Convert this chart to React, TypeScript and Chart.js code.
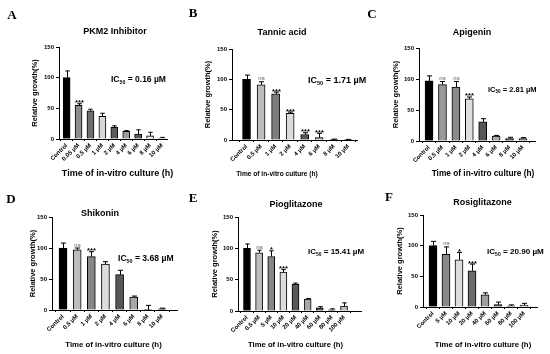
import React, { useEffect, useRef } from "react";
import { Chart, registerables } from "chart.js";
Chart.register(...registerables);

const W = 550;
const H = 354;
const SANS = "'Liberation Sans', Arial, sans-serif";
const SERIF = "'Liberation Serif', 'Times New Roman', serif";
const X_TITLE = "Time of in-vitro culture (h)";
const Y_TITLE = "Relative growth(%)";

// ---------- Panel A ----------
const titleA = "PKM2 Inhibitor";
const dosesA = ["Control", "0.05 µM", "0.5 µM", "1 µM", "2 µM", "4 µM", "6 µM", "8 µM", "10 µM"];
const growthA = [100, 55, 46, 37, 19, 12.5, 8, 5, 1.5];
const errA = [11, 2.5, 2.5, 5, 2.5, 1.2, 7, 6, 1.2];
const sigA = ["", "***", "", "", "", "", "", "", ""];
const ic50A = "0.16 µM";
const colorsA = ["#000000", "#8c8c8c", "#6e6e6e", "#d6d6d6", "#5a5a5a", "#9e9e9e", "#5e5e5e", "#e4e4e4", "#ffffff"];

// ---------- Panel B ----------
const titleB = "Tannic acid";
const dosesB = ["Control", "0.5 µM", "1 µM", "2 µM", "4 µM", "6 µM", "8 µM", "10 µM"];
const growthB = [100, 91, 76, 44, 9, 4, 1, 0.5];
const errB = [7, 5, 3, 2, 3, 7, 0.5, 0.5];
const sigB = ["", "ns", "***", "***", "***", "***", "", ""];
const ic50B = "1.71 µM";
const colorsB = ["#000000", "#bdbdbd", "#7e7e7e", "#dcdcdc", "#555555", "#9a9a9a", "#444444", "#bbbbbb"];

// ---------- Panel C ----------
const titleC = "Apigenin";
const dosesC = ["Control", "0.5 µM", "1 µM", "2 µM", "4 µM", "6 µM", "8 µM", "10 µM"];
const growthC = [97, 91, 87, 68, 31, 8, 4, 4];
const errC = [8, 5, 9, 3, 5, 1, 2, 1.5];
const sigC = ["", "ns", "ns", "***", "", "", "", ""];
const ic50C = "2.81 µM";
const colorsC = ["#000000", "#9a9a9a", "#8a8a8a", "#dedede", "#575757", "#ababab", "#555555", "#8a8a8a"];

// ---------- Panel D ----------
const titleD = "Shikonin";
const dosesD = ["Control", "0.5 µM", "1 µM", "2 µM", "4 µM", "6 µM", "8 µM", "10 µM"];
const growthD = [100, 97, 86, 74, 57, 21, 0.5, 2];
const errD = [8, 3, 8, 4, 7, 1.5, 7, 1];
const sigD = ["", "ns", "***", "", "", "", "", ""];
const ic50D = "3.68 µM";
const colorsD = ["#000000", "#bcbcbc", "#878787", "#dcdcdc", "#585858", "#a8a8a8", "#888888", "#555555"];

// ---------- Panel E ----------
const titleE = "Pioglitazone";
const dosesE = ["Control", "0.5 µM", "5 µM", "10 µM", "20 µM", "40 µM", "60 µM", "80 µM", "100 µM"];
const growthE = [100, 93, 87, 62, 43, 19, 5, 2, 8];
const errE = [7, 4, 9, 4, 1.5, 1, 2, 1.5, 5];
const sigE = ["", "ns", "*", "***", "", "", "", "", ""];
const ic50E = "15.41 µM";
const colorsE = ["#000000", "#bdbdbd", "#858585", "#dcdcdc", "#585858", "#a8a8a8", "#555555", "#888888", "#bdbdbd"];

// ---------- Panel F ----------
const titleF = "Rosiglitazone";
const dosesF = ["Control", "5 µM", "10 µM", "20 µM", "40 µM", "60 µM", "80 µM", "100 µM"];
const growthF = [100, 86, 77, 59, 20, 4, 2, 3];
const errF = [7, 12, 12, 11, 3, 4, 1.5, 3];
const sigF = ["", "ns", "*", "***", "", "", "", ""];
const ic50F = "20.90 µM";
const colorsF = ["#000000", "#8a8a8a", "#dcdcdc", "#6a6a6a", "#9e9e9e", "#555555", "#aaaaaa", "#cccccc"];

type Layout = {
  x0: number; x1: number; yTop: number; yBot: number; xMin: number; xMax: number; bar: number;
  letter: [number, number]; title: [number, number]; titleSize: number;
  ic50: [number, number]; ic50Size: number;
  xTitle: [number, number]; xTitleSize: number; yTitleGap: number; yTitleSize: number; tickSize: number;
};

type Panel = {
  letter: string; title: string; doses: string[]; values: number[]; errors: number[];
  sig: string[]; colors: string[]; ic50: string; lay: Layout;
};

const panels: Panel[] = [
  { letter: "A", title: titleA, doses: dosesA, values: growthA, errors: errA, sig: sigA, colors: colorsA, ic50: ic50A,
    lay: { x0: 59, x1: 167, yTop: 47, yBot: 139, xMin: -0.64, xMax: 8.42, bar: 7, letter: [12, 16], title: [115, 32], titleSize: 9,
      ic50: [111, 80], ic50Size: 8.5, xTitle: [117.5, 174], xTitleSize: 9, yTitleGap: 24, yTitleSize: 7.5, tickSize: 6 } },
  { letter: "B", title: titleB, doses: dosesB, values: growthB, errors: errB, sig: sigB, colors: colorsB, ic50: ic50B,
    lay: { x0: 232, x1: 357, yTop: 49, yBot: 140, xMin: -1.0, xMax: 7.6, bar: 8, letter: [193, 14], title: [282, 33], titleSize: 9,
      ic50: [308, 81], ic50Size: 9, xTitle: [277, 174.5], xTitleSize: 6.6, yTitleGap: 24, yTitleSize: 7.5, tickSize: 6 } },
  { letter: "C", title: titleC, doses: dosesC, values: growthC, errors: errC, sig: sigC, colors: colorsC, ic50: ic50C,
    lay: { x0: 419, x1: 535, yTop: 48, yBot: 141, xMin: -0.75, xMax: 7.9, bar: 8, letter: [372, 15], title: [472, 33], titleSize: 9,
      ic50: [488, 90], ic50Size: 7.5, xTitle: [483, 174], xTitleSize: 8.3, yTitleGap: 23, yTitleSize: 7.5, tickSize: 6 } },
  { letter: "D", title: titleD, doses: dosesD, values: growthD, errors: errD, sig: sigD, colors: colorsD, ic50: ic50D,
    lay: { x0: 52, x1: 177, yTop: 217, yBot: 310, xMin: -0.78, xMax: 8.06, bar: 8, letter: [11, 200], title: [100, 213.5], titleSize: 9,
      ic50: [118, 259], ic50Size: 8.6, xTitle: [113.5, 345], xTitleSize: 7.8, yTitleGap: 19, yTitleSize: 7.5, tickSize: 6 } },
  { letter: "E", title: titleE, doses: dosesE, values: growthE, errors: errE, sig: sigE, colors: colorsE, ic50: ic50E,
    lay: { x0: 238, x1: 361, yTop: 217, yBot: 311, xMin: -0.74, xMax: 9.4, bar: 7, letter: [193, 199], title: [296, 204.5], titleSize: 9,
      ic50: [308, 252], ic50Size: 8, xTitle: [295.5, 345], xTitleSize: 7.7, yTitleGap: 23, yTitleSize: 7.5, tickSize: 6 } },
  { letter: "F", title: titleF, doses: dosesF, values: growthF, errors: errF, sig: sigF, colors: colorsF, ic50: ic50F,
    lay: { x0: 423, x1: 537, yTop: 215, yBot: 307, xMin: -0.77, xMax: 8.0, bar: 8, letter: [389, 198], title: [482.5, 203], titleSize: 9,
      ic50: [487, 252], ic50Size: 8.1, xTitle: [483, 345], xTitleSize: 7.8, yTitleGap: 23, yTitleSize: 7.5, tickSize: 6 } },
];

const HX = 32;

function drawIC50(ctx: CanvasRenderingContext2D, x: number, y: number, size: number, value: string) {
  ctx.textAlign = "left";
  ctx.textBaseline = "middle";
  ctx.fillStyle = "#000";
  ctx.font = `bold ${size}px ${SANS}`;
  ctx.fillText("IC", x, y);
  let w = ctx.measureText("IC").width;
  const sub = size * 0.62;
  ctx.font = `bold ${sub}px ${SANS}`;
  ctx.fillText("50", x + w, y + size * 0.28);
  w += ctx.measureText("50").width;
  ctx.font = `bold ${size}px ${SANS}`;
  ctx.fillText(" = " + value, x + w, y);
}

const annotate = {
  id: "annotate",
  afterDatasetsDraw(chart: any, _args: any, opts: any) {
    const p: Panel = opts.panel;
    if (!p) return;
    const ctx: CanvasRenderingContext2D = chart.ctx;
    const ys = chart.scales.y;
    const meta = chart.getDatasetMeta(0);
    ctx.save();
    meta.data.forEach((bar: any, i: number) => {
      const v = p.values[i];
      const e = p.errors[i];
      const x = Math.round(bar.x) + 0.5;
      const yE = ys.getPixelForValue(v + e);
      const cap = p.lay.bar * 0.32;
      ctx.strokeStyle = "#000";
      ctx.lineWidth = 1;
      ctx.beginPath();
      ctx.moveTo(x, bar.y);
      ctx.lineTo(x, yE);
      ctx.moveTo(x - cap, yE);
      ctx.lineTo(x + cap, yE);
      ctx.stroke();
      const s = p.sig[i];
      if (s) {
        ctx.textAlign = "center";
        ctx.textBaseline = "alphabetic";
        if (s === "ns") {
          ctx.fillStyle = "#555";
          ctx.font = `6px ${SANS}`;
          ctx.fillText(s, x, yE - 1.5);
        } else {
          ctx.fillStyle = "#000";
          ctx.font = `bold 7.5px ${SANS}`;
          ctx.fillText(s, x, yE + 1.5);
        }
      }
    });
    ctx.restore();
  },
  afterDraw(chart: any, _args: any, opts: any) {
    const p: Panel = opts.panel;
    if (!p) return;
    const L = p.lay;
    const ctx: CanvasRenderingContext2D = chart.ctx;
    ctx.save();
    ctx.fillStyle = "#000";
    ctx.textBaseline = "middle";
    ctx.textAlign = "center";
    ctx.font = `bold 13px ${SERIF}`;
    ctx.fillText(p.letter, L.letter[0], L.letter[1]);
    ctx.font = `bold ${L.titleSize}px ${SANS}`;
    ctx.fillText(p.title, L.title[0], L.title[1]);
    ctx.font = `bold ${L.xTitleSize}px ${SANS}`;
    ctx.fillText(X_TITLE, L.xTitle[0], L.xTitle[1]);
    drawIC50(ctx, L.ic50[0], L.ic50[1], L.ic50Size, p.ic50);
    ctx.restore();
  },
};

function PanelChart({ p }: { p: Panel }) {
  const ref = useRef<HTMLCanvasElement | null>(null);
  useEffect(() => {
    if (!ref.current) return;
    const L = p.lay;
    const yLine = L.yTitleSize * 1.2;
    const wy = L.yTitleGap + yLine / 2;
    const tickFont = { family: SANS, size: L.tickSize, weight: "bold" as const };
    const chart = new Chart(ref.current, {
      type: "bar",
      data: {
        datasets: [
          {
            data: p.values.map((v, i) => ({ x: i, y: v })),
            backgroundColor: p.colors,
            borderColor: "#000",
            borderWidth: 1,
            barThickness: L.bar,
          },
        ],
      },
      plugins: [annotate],
      options: {
        responsive: false,
        animation: false,
        devicePixelRatio: 1,
        layout: {
          padding: { left: L.x0 - wy, top: L.yTop, right: W - L.x1, bottom: H - L.yBot - HX },
        },
        plugins: {
          legend: { display: false },
          tooltip: { enabled: false },
          title: { display: false },
          annotate: { panel: p },
        } as any,
        scales: {
          x: {
            type: "linear",
            min: L.xMin,
            max: L.xMax,
            offset: false,
            grid: { drawOnChartArea: false, drawTicks: true, tickLength: 2, color: "#000", lineWidth: 1 },
            border: { display: true, color: "#000", width: 1 },
            ticks: {
              stepSize: 1,
              includeBounds: false,
              autoSkip: false,
              minRotation: 45,
              maxRotation: 45,
              padding: 1,
              color: "#000",
              font: tickFont,
              callback: (v: any) => p.doses[v as number] ?? "",
            },
            afterFit: (s: any) => {
              s.height = HX;
            },
          },
          y: {
            min: 0,
            max: 150,
            grid: { drawOnChartArea: false, drawTicks: true, tickLength: 3, color: "#000", lineWidth: 1 },
            border: { display: true, color: "#000", width: 1 },
            ticks: { stepSize: 50, padding: 2, color: "#000", font: tickFont },
            title: {
              display: true,
              text: Y_TITLE,
              color: "#000",
              padding: 0,
              font: { family: SANS, size: L.yTitleSize, weight: "bold" },
            },
            afterFit: (s: any) => {
              s.width = wy;
            },
          },
        },
      } as any,
    });
    return () => chart.destroy();
  }, [p]);
  return (
    <canvas
      ref={ref}
      width={W}
      height={H}
      style={{ position: "absolute", left: 0, top: 0, width: W, height: H }}
    />
  );
}

export default function App() {
  return (
    <div style={{ position: "absolute", left: 0, top: 0, width: W, height: H, background: "#fff" }}>
      {panels.map((p) => (
        <PanelChart key={p.letter} p={p} />
      ))}
    </div>
  );
}
